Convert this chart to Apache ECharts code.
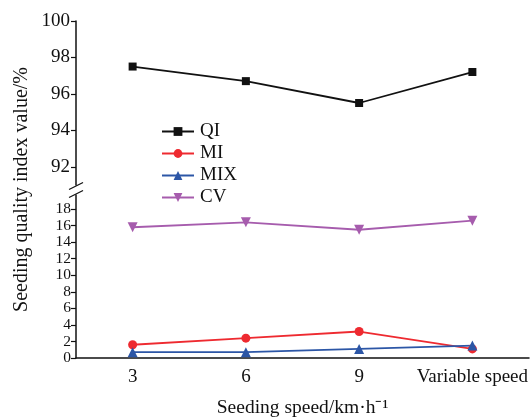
<!DOCTYPE html>
<html>
<head>
<meta charset="utf-8">
<style type="text/css">
    body { margin: 0; background: #fff; }
</style>
</head>
<body>
<div style="width: 531px;height: 417px;" id="chart"></div>
<script src="https://cdn.jsdelivr.net/npm/echarts@6/dist/echarts.min.js"></script>
<script>

let categories = ['3', '6', '9', 'Variable speed'];
let qi = [97.5, 96.7, 95.5, 97.2];
let mi = [1.6, 2.4, 3.2, 1.1];
let mix = [0.7, 0.7, 1.1, 1.5];
let cv = [15.8, 16.4, 15.5, 16.6];
let upperTicks = [92, 94, 96, 98, 100];
let lowerTicks = [0, 2, 4, 6, 8, 10, 12, 14, 16, 18];

let font = 'Liberation Serif';
let chart = echarts.init(document.getElementById('chart'));

let yAxisBase = {
    type: 'value',
    splitLine: {show: false},
    axisLine: {show: true, lineStyle: {color: '#111', width: 1.5}},
    axisTick: {show: true, length: 5, lineStyle: {color: '#111', width: 1.2}},
    axisLabel: {
        color: '#111', fontFamily: font, fontSize: 19, margin: 6,
        showMinLabel: true, showMaxLabel: true, hideOverlap: false
    }
};

let option = {
    animation: false,
    textStyle: {fontFamily: font},
    legend: {
        orient: 'vertical',
        left: 156,
        top: 117,
        itemWidth: 32,
        itemHeight: 11,
        itemGap: 3,
        textStyle: {color: '#111', fontFamily: font, fontSize: 19, padding: [0, 0, 0, 1]},
        data: ['QI', 'MI', 'MIX', 'CV']
    },
    grid: [
        {left: 76, right: 2, top: 21, bottom: 232, outerBoundsMode: 'none'},
        {left: 76, right: 2, top: 195, bottom: 59, outerBoundsMode: 'none'}
    ],
    xAxis: [
        {type: 'category', gridIndex: 0, data: categories, show: false},
        {
            type: 'category', gridIndex: 1, data: categories,
            axisLine: {lineStyle: {color: '#111', width: 1.5}},
            axisTick: {alignWithLabel: true, length: 4, interval: 0, lineStyle: {color: '#111', width: 1.2}},
            axisLabel: {color: '#111', fontFamily: font, fontSize: 19, margin: 10, interval: 0, hideOverlap: false},
            name: 'Seeding speed/km·h⁻¹',
            nameLocation: 'middle',
            nameGap: 40,
            nameTextStyle: {color: '#111', fontFamily: font, fontSize: 19.5}
        }
    ],
    yAxis: [
        Object.assign({}, yAxisBase, {
            gridIndex: 0, min: 91, max: 100,
            axisTick: Object.assign({}, yAxisBase.axisTick, {customValues: upperTicks}),
            axisLabel: Object.assign({}, yAxisBase.axisLabel, {customValues: upperTicks})
        }),
        Object.assign({}, yAxisBase, {
            gridIndex: 1, min: 0, max: 19.7,
            axisTick: Object.assign({}, yAxisBase.axisTick, {customValues: lowerTicks}),
            axisLabel: Object.assign({}, yAxisBase.axisLabel, {
                customValues: lowerTicks, fontSize: 15.5, margin: 5
            })
        })
    ],
    series: [
        {
            name: 'QI', type: 'line', xAxisIndex: 0, yAxisIndex: 0, data: qi,
            symbol: 'rect', symbolSize: 8,
            itemStyle: {color: '#111'}, lineStyle: {color: '#111', width: 1.8}
        },
        {
            name: 'MI', type: 'line', xAxisIndex: 1, yAxisIndex: 1, data: mi,
            symbol: 'circle', symbolSize: 9,
            itemStyle: {color: '#ee2a30'}, lineStyle: {color: '#ee2a30', width: 1.8}
        },
        {
            name: 'MIX', type: 'line', xAxisIndex: 1, yAxisIndex: 1, data: mix,
            symbol: 'triangle', symbolSize: 10,
            itemStyle: {color: '#2c56a6'}, lineStyle: {color: '#2c56a6', width: 1.8}
        },
        {
            name: 'CV', type: 'line', xAxisIndex: 1, yAxisIndex: 1, data: cv,
            symbol: 'triangle', symbolRotate: 180, symbolSize: 10,
            itemStyle: {color: '#a65cad'}, lineStyle: {color: '#a65cad', width: 1.8}
        }
    ]
};

chart.setOption(option);

// break marks between the two y axes, plus the shared y axis name
let axisX = chart.convertToPixel({xAxisIndex: 1}, 0) - 56.6;
let upperBottom = chart.convertToPixel({yAxisIndex: 0}, 91);
let lowerTop = chart.convertToPixel({yAxisIndex: 1}, 19.7);
let lowerZero = chart.convertToPixel({yAxisIndex: 1}, 0);
let upperTop = chart.convertToPixel({yAxisIndex: 0}, 100);
let slash = (y) => ({
    type: 'line',
    shape: {x1: axisX - 7, y1: y + 3.5, x2: axisX + 7, y2: y - 3.5},
    style: {stroke: '#111', lineWidth: 1.3}
});

chart.setOption({
    graphic: [
        slash(upperBottom + 1),
        slash(lowerTop - 1),
        {
            type: 'text',
            x: 22,
            y: (upperTop + lowerZero) / 2,
            rotation: Math.PI / 2,
            style: {
                text: 'Seeding quality index value/%',
                fontFamily: font,
                fontSize: 20,
                fill: '#111',
                align: 'center',
                verticalAlign: 'middle'
            }
        }
    ]
});

</script>
</body>
</html>
